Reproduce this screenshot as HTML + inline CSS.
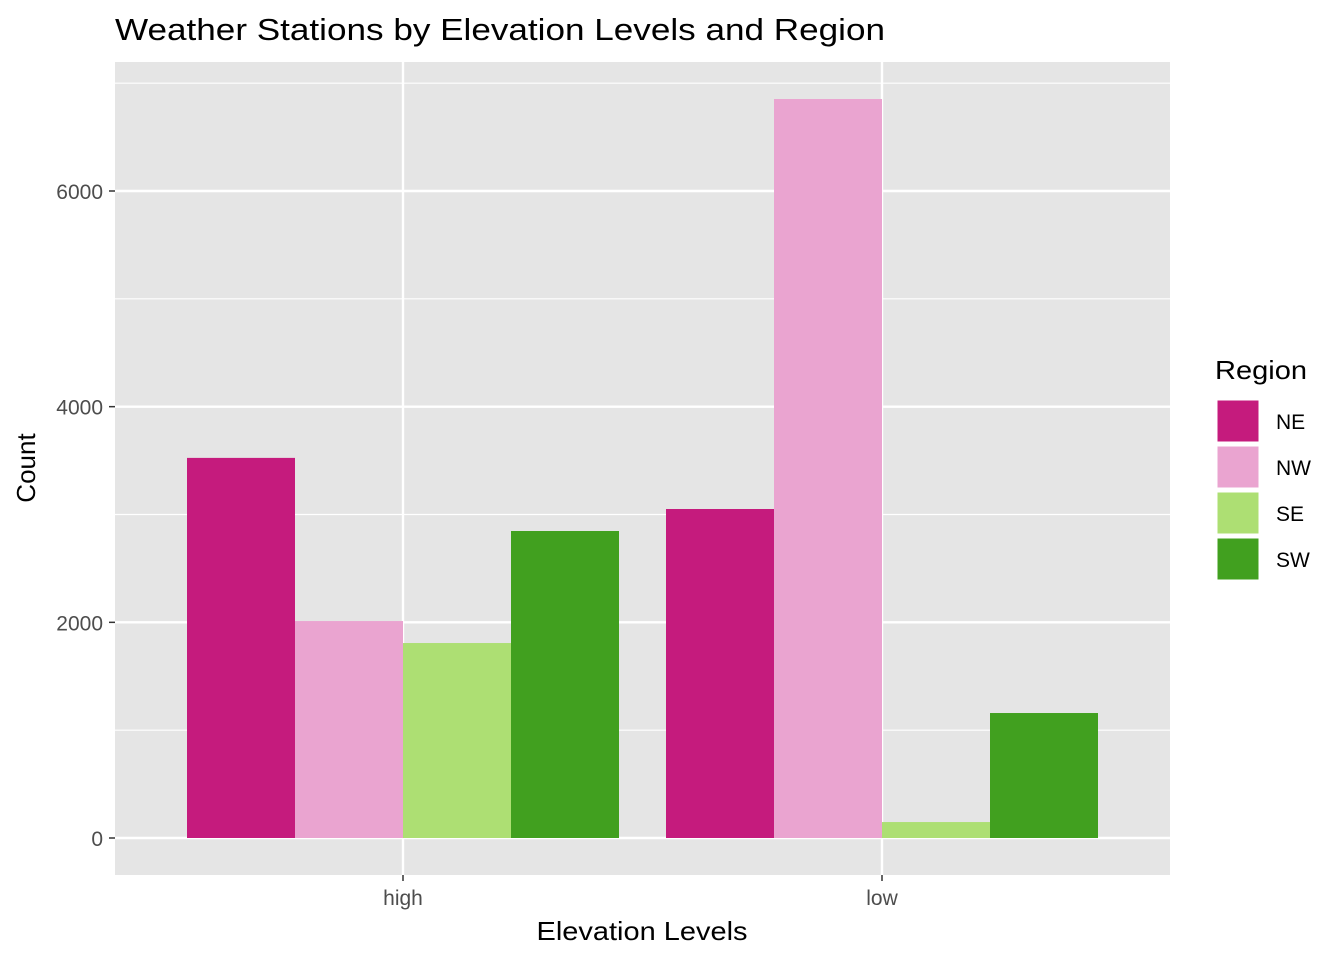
<!DOCTYPE html>
<html><head><meta charset="utf-8"><style>
body{margin:0;background:#fff;font-family:"Liberation Sans",Arial,sans-serif;}
svg text{font-family:"Liberation Sans",Arial,sans-serif;}
</style></head><body>
<svg id="chart" width="1344" height="960" xmlns="http://www.w3.org/2000/svg">
<rect width="1344" height="960" fill="#fff"/>
<text x="115" y="40" font-size="31" textLength="770" lengthAdjust="spacingAndGlyphs" fill="#000">Weather Stations by Elevation Levels and Region</text>
<rect x="115" y="62" width="1055" height="813" fill="#e5e5e5"/>
<g id="grid"></g>
<g id="bars"></g>
<g id="axes"></g>
<text x="642" y="940" font-size="26" textLength="211" lengthAdjust="spacingAndGlyphs" text-anchor="middle">Elevation Levels</text>
<text transform="translate(35,468) rotate(-90)" font-size="26" text-anchor="middle">Count</text>
<text x="1215" y="379" font-size="26" textLength="92" lengthAdjust="spacingAndGlyphs">Region</text>
<g id="legend"></g>
</svg>
<script>
const categories = ["high","low"];
const regions = ["NE","NW","SE","SW"];
const colors = ["#c51b7d","#eaa4d0","#addf73","#41a01f"];
const valuesNE = [3525, 3051];
const valuesNW = [2012, 6853];
const valuesSE = [1808, 148];
const valuesSW = [2847, 1159];
const yTicks = [0,2000,4000,6000];
const series = [valuesNE, valuesNW, valuesSE, valuesSW];
const NS="http://www.w3.org/2000/svg";
const y0=838, pxPer=(838-191)/6000;
function y(v){return y0 - v*pxPer;}
function xc(i){return 403 + i*479;}
const bw=108;
function mk(tag,attrs,parent){const e=document.createElementNS(NS,tag);for(const k in attrs)e.setAttribute(k,attrs[k]);parent.appendChild(e);return e;}
const grid=document.getElementById('grid'), bars=document.getElementById('bars'), axes=document.getElementById('axes'), legend=document.getElementById('legend');
for(let i=0;i<yTicks.length;i++){
  const mv=yTicks[i]+1000;
  if(y(mv)>62){const l=mk('line',{x1:115,x2:1170,y1:y(mv),y2:y(mv),stroke:'#fff','stroke-width':1.2},grid);
  
  }
}
yTicks.forEach(t=>{
  const l=mk('line',{x1:115,x2:1170,y1:y(t),y2:y(t),stroke:'#fff','stroke-width':2.4},grid);
  
  
  const tk=mk('line',{x1:109,x2:115,y1:y(t),y2:y(t),stroke:'#333','stroke-width':1.5},axes);
  
  
  const tx=mk('text',{x:103,y:y(t)+8,'font-size':21,fill:'#4d4d4d','text-anchor':'end'},axes);
  tx.textContent=t;
  
  
});
categories.forEach((c,i)=>{
  const l=mk('line',{x1:xc(i),x2:xc(i),y1:62,y2:875,stroke:'#fff','stroke-width':2.4},grid);
  
  
  const tk=mk('line',{x1:xc(i),x2:xc(i),y1:875,y2:881,stroke:'#333','stroke-width':1.5},axes);
  
  
  const tx=mk('text',{x:xc(i),y:905,'font-size':21,fill:'#4d4d4d','text-anchor':'middle'},axes);
  tx.textContent=c;
  
  
  series.forEach((s,j)=>{
    const x=xc(i)-2*bw+j*bw;
    const r=mk('rect',{x:x,y:y(s[i]),width:bw,height:y0-y(s[i]),fill:colors[j]},bars);
    
    
  });
});
regions.forEach((r,j)=>{
  const yy=400+j*46;
  const k=mk('rect',{x:1217,y:yy,width:42,height:42,fill:colors[j],stroke:'#fff','stroke-width':1},legend);
  
  
  const t=mk('text',{x:1276,y:yy+29,'font-size':21,fill:'#000'},legend);
  t.textContent=r;
  
  
});
</script>
</body></html>
